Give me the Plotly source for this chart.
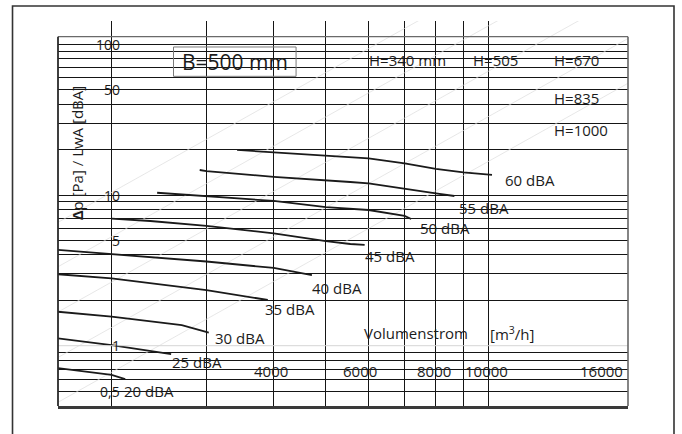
import numpy as np
import plotly.graph_objects as go

# ---------------- data ----------------
# dBA iso-lines: volume flow [m3/h] vs pressure drop [Pa]
v60 = [3420, 4000, 5000, 5550, 6000, 7000, 8000, 9000, 10170]
p60 = [19.9, 19.2, 18.3, 17.8, 17.5, 16.2, 14.9, 14.15, 13.6]
v55 = [2915, 3000, 4000, 5000, 5550, 6000, 7000, 8000, 8660]
p55 = [14.65, 14.4, 13.2, 12.6, 12.2, 11.95, 10.95, 10.25, 9.85]
v50 = [2430, 3000, 4000, 5000, 5550, 6000, 7000, 7200]
p50 = [10.35, 9.85, 9.13, 8.3, 8.07, 7.95, 7.26, 6.93]
v45 = [2000, 2360, 3000, 4000, 5000, 5550, 5900]
p45 = [6.96, 6.72, 6.23, 5.57, 4.95, 4.73, 4.66]
v40 = [1590, 2000, 3000, 4000, 4710]
p40 = [4.32, 4.06, 3.62, 3.28, 2.94]
v35 = [1590, 2000, 3000, 3900]
p35 = [2.98, 2.80, 2.34, 2.01]
v30 = [1590, 2000, 2700, 3030]
p30 = [1.68, 1.56, 1.37, 1.22]
v25 = [1590, 2000, 2580]
p25 = [1.12, 1.01, 0.88]
v20 = [1590, 1810, 2000, 2120]
p20 = [0.71, 0.67, 0.64, 0.60]

curves = [(v60, p60), (v55, p55), (v50, p50), (v45, p45), (v40, p40),
          (v35, p35), (v30, p30), (v25, p25), (v20, p20)]

# dBA label texts and their anchor points (left edge, middle)
dba_labels = ["60 dBA", "55 dBA", "50 dBA", "45 dBA", "40 dBA",
              "35 dBA", "30 dBA", "25 dBA", "20 dBA"]
dba_label_v = [10680, 8770, 7400, 5850, 4680, 3815, 3090, 2570, 2090]
dba_label_p = [12.6, 8.15, 6.03, 3.95, 2.43, 1.75, 1.12, 0.78, 0.50]

# thin system lines (dp ~ V^2): flow at which each line passes 1 Pa
diag_v_at_1pa = [620, 870, 1230, 1740, 2450]

# grid
x_grid = [2000, 3000, 4000, 5000, 6000, 7000, 8000, 9000, 10000]
y_grid = [0.5, 0.6, 0.7, 0.8, 0.9, 2, 3, 4, 5, 6, 7, 8, 9,
          10, 20, 30, 40, 50, 60, 70, 80, 90, 100]
y_light = 1

# tick labels
x_tick_vals = [4000, 6000, 8000, 10000, 16000]
x_tick_text = ["4000", "6000", "8000", "10000", "16000"]
x_tick_shift = [-3, -9, -2, -2, 3]
x_tick_p = 0.68
y_tick_vals = [100, 50, 10, 5, 1, 0.5]
y_tick_text = ["100", "50", "10", "5", "1", "0,5"]
y_tick_v = 2095

# size labels
h_labels = ["H=340 mm", "H=505", "H=670", "H=835", "H=1000"]
h_label_v = [5950, 9280, 13130, 13130, 13130]
h_label_p = [78.5, 78.5, 78.5, 44.0, 27.0]

# small specks of the scan
dots_bottom_v = x_grid
dots_bottom_p = 0.302
dots_left_v = 1444
dots_left_p = [3.0, 1.8, 1.17, 0.74]

# ---------------- figure ----------------
FONT = "Open Sans"
TXT = "#1c1c1c"
fig = go.Figure()

for v1 in diag_v_at_1pa:
    xs = [v1 * 0.3, v1 * 14]
    ys = [(x / v1) ** 2 for x in xs]
    fig.add_trace(go.Scatter(x=xs, y=ys, mode="lines",
                             line=dict(color="#dcdcdc", width=0.7),
                             hoverinfo="skip"))

for v, p in curves:
    fig.add_trace(go.Scatter(x=v, y=p, mode="lines",
                             line=dict(color="#1a1a1a", width=1.8),
                             hoverinfo="skip"))

fig.add_trace(go.Scatter(x=dots_bottom_v, y=[dots_bottom_p] * len(dots_bottom_v),
                         mode="markers", cliponaxis=False,
                         marker=dict(size=2, color="#8a8a8a"), hoverinfo="skip"))
fig.add_trace(go.Scatter(x=[dots_left_v] * len(dots_left_p), y=dots_left_p,
                         mode="markers", cliponaxis=False,
                         marker=dict(size=2, color="#b0b0b0"), hoverinfo="skip"))

ann = []
for t, v, p in zip(dba_labels, dba_label_v, dba_label_p):
    ann.append(dict(x=np.log10(v), y=np.log10(p), text=t, xanchor="left",
                    yanchor="middle", showarrow=False,
                    font=dict(family=FONT, size=15, color=TXT)))
for t, v, s in zip(x_tick_text, x_tick_vals, x_tick_shift):
    ann.append(dict(x=np.log10(v), y=np.log10(x_tick_p), text=t, xanchor="center",
                    yanchor="middle", xshift=s, showarrow=False,
                    font=dict(family=FONT, size=15, color=TXT)))
for t, p in zip(y_tick_text, y_tick_vals):
    ann.append(dict(x=np.log10(y_tick_v), y=np.log10(p), text=t, xanchor="right",
                    yanchor="middle", showarrow=False,
                    font=dict(family=FONT, size=14, color=TXT)))
for t, v, p in zip(h_labels, h_label_v, h_label_p):
    ann.append(dict(x=np.log10(v), y=np.log10(p), text=t, xanchor="left",
                    yanchor="middle", showarrow=False,
                    font=dict(family=FONT, size=15, color=TXT)))
ann.append(dict(x=np.log10(3386), y=np.log10(76.6), text="B=500 mm",
                xanchor="center", yanchor="middle", showarrow=False,
                font=dict(family=FONT, size=21, color=TXT)))
ann.append(dict(x=np.log10(1721), y=np.log10(19.05),
                text="<b>Δ</b>p [Pa] / LwA [dBA]", textangle=-90,
                xanchor="center", yanchor="middle", showarrow=False,
                font=dict(family=FONT, size=15, color=TXT)))
ann.append(dict(x=np.log10(5840), y=np.log10(1.21), text="Volumenstrom",
                xanchor="left", yanchor="middle", showarrow=False,
                font=dict(family=FONT, size=15, color=TXT)))
ann.append(dict(x=np.log10(10000), y=np.log10(1.21), text="[m<sup>3</sup>/h]",
                xanchor="left", yanchor="middle", showarrow=False,
                font=dict(family=FONT, size=15, color=TXT)))

FRAME_TOP = 112.3
FRAME_BOTTOM = 10 ** -0.4001
shapes = [
    dict(type="line", xref="paper", yref="y", x0=0, x1=1, y0=y_light, y1=y_light,
         line=dict(color="#d6d6d6", width=1)),
    dict(type="line", xref="paper", yref="y", x0=0, x1=1, y0=FRAME_TOP, y1=FRAME_TOP,
         line=dict(color="#6a6a6a", width=1.2)),
    dict(type="line", xref="paper", yref="y", x0=0, x1=0, y0=FRAME_BOTTOM, y1=FRAME_TOP,
         line=dict(color="#2a2a2a", width=1.8)),
    dict(type="line", xref="paper", yref="y", x0=1, x1=1, y0=FRAME_BOTTOM, y1=FRAME_TOP,
         line=dict(color="#666666", width=1.6)),
    dict(type="rect", xref="x", yref="y", x0=2606, x1=4401, y0=61.3, y1=96.0,
         line=dict(color="#7a7a7a", width=1)),
    dict(type="rect", xref="paper", yref="paper", x0=-0.0798, x1=1.0807,
         y0=-0.12, y1=1.039, line=dict(color="#333333", width=1.6)),
]

fig.update_layout(
    width=682, height=434,
    margin=dict(l=57.5, r=54.3, t=21, b=28, pad=0),
    paper_bgcolor="white", plot_bgcolor="white",
    showlegend=False,
    annotations=ann, shapes=shapes,
    xaxis=dict(type="log", range=[3.20154, 4.25982], tickvals=x_grid,
               showticklabels=False, ticks="", showgrid=True,
               gridcolor="#151515", gridwidth=1.2, zeroline=False,
               showline=True, linecolor="#3a3a3a", linewidth=2.5),
    yaxis=dict(type="log", range=[-0.40013, 2.15461], tickvals=y_grid,
               showticklabels=False, ticks="", showgrid=True,
               gridcolor="#151515", gridwidth=1.2, zeroline=False,
               showline=False),
)

fig.write_html("out.html")
